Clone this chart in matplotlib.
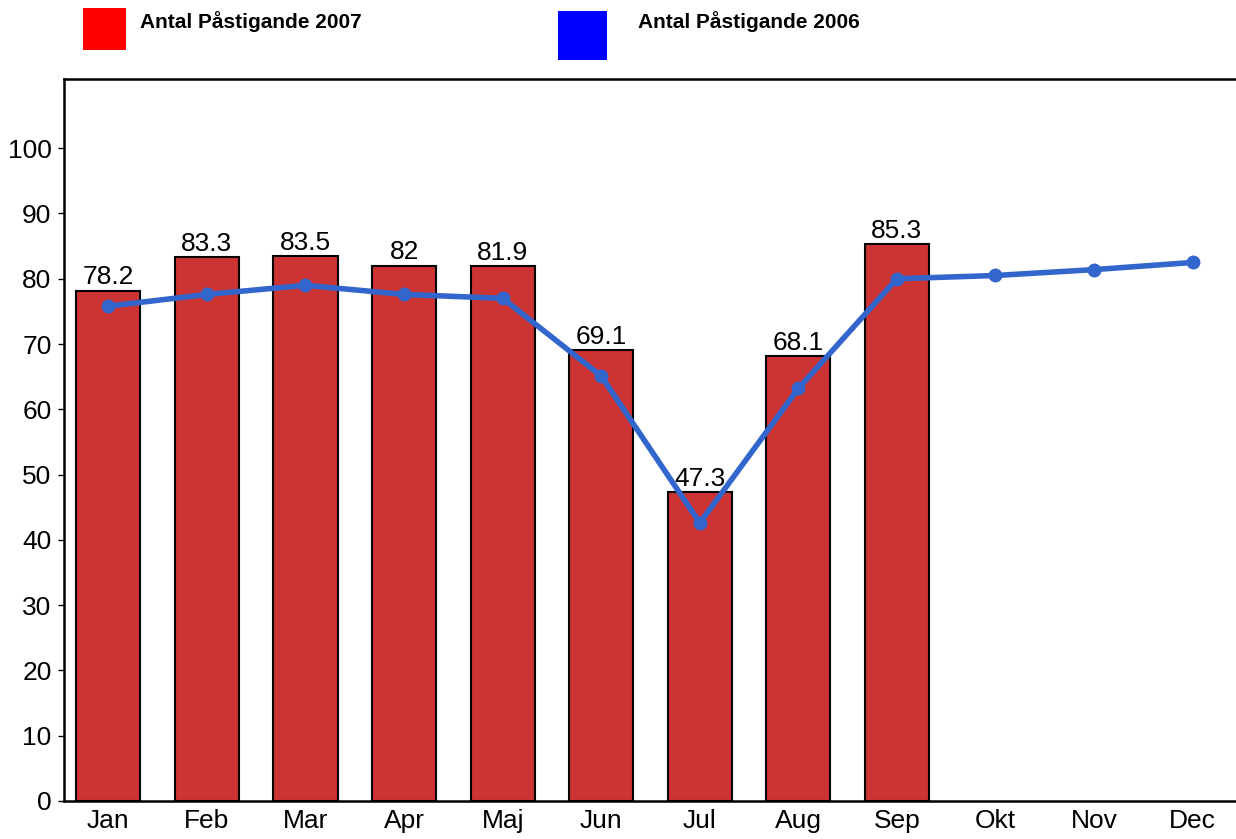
import matplotlib
matplotlib.use("Agg")
import matplotlib.pyplot as plt
from matplotlib.patches import Rectangle

months = ["Jan", "Feb", "Mar", "Apr", "Maj", "Jun", "Jul", "Aug", "Sep", "Okt", "Nov", "Dec"]
values_2007 = [78.2, 83.3, 83.5, 82, 81.9, 69.1, 47.3, 68.1, 85.3]
values_2006 = [75.8, 77.6, 79.0, 77.6, 77.0, 65.1, 42.6, 63.2, 80.0, 80.5, 81.4, 82.5]
legend_labels = ["Antal Påstigande 2007", "Antal Påstigande 2006"]
yticks = [0, 10, 20, 30, 40, 50, 60, 70, 80, 90, 100]

plt.rcParams['font.family'] = ['Liberation Sans', 'DejaVu Sans']

W, H = 1236, 839
fig = plt.figure(figsize=(W / 100, H / 100), dpi=100)
ax = fig.add_axes([64 / W, 1 - 801 / H, (1236 - 64) / W, (801 - 79) / H])

x = list(range(len(months)))
bars = ax.bar(x[:len(values_2007)], values_2007, width=0.65, color="#CC3333",
              edgecolor="black", linewidth=1.5, zorder=2)
for xi, v in zip(x, values_2007):
    ax.text(xi, v + 0.2, f"{v:g}", ha="center", va="bottom", fontsize=19, zorder=4)

ax.plot(x, values_2006, color="#3366CC", linewidth=4, marker="o", markersize=9, zorder=3)

ax.set_xlim(-0.45, 11.44)
ax.set_ylim(0, 110.6)
ax.set_yticks(yticks)
ax.set_xticks(x)
ax.set_xticklabels(months)
ax.tick_params(axis="both", labelsize=19, length=4, width=1, color="black")
ax.tick_params(axis="y", pad=5)
ax.tick_params(axis="x", length=0, pad=6)
for s in ax.spines.values():
    s.set_linewidth(1.8)
ax.spines["right"].set_visible(False)

# legend
fig.patches.append(Rectangle((83 / W, 1 - 50 / H), 43 / W, 42 / H, transform=fig.transFigure,
                             facecolor="#FF0000", edgecolor="none"))
fig.patches.append(Rectangle((558 / W, 1 - 60 / H), 49 / W, 49 / H, transform=fig.transFigure,
                             facecolor="#0000FF", edgecolor="none"))
fig.text(140 / W, 1 - 22 / H, legend_labels[0], fontsize=15, fontweight="bold", va="center", ha="left")
fig.text(638 / W, 1 - 22 / H, legend_labels[1], fontsize=15, fontweight="bold", va="center", ha="left")

fig.savefig("out.png", dpi=100)
